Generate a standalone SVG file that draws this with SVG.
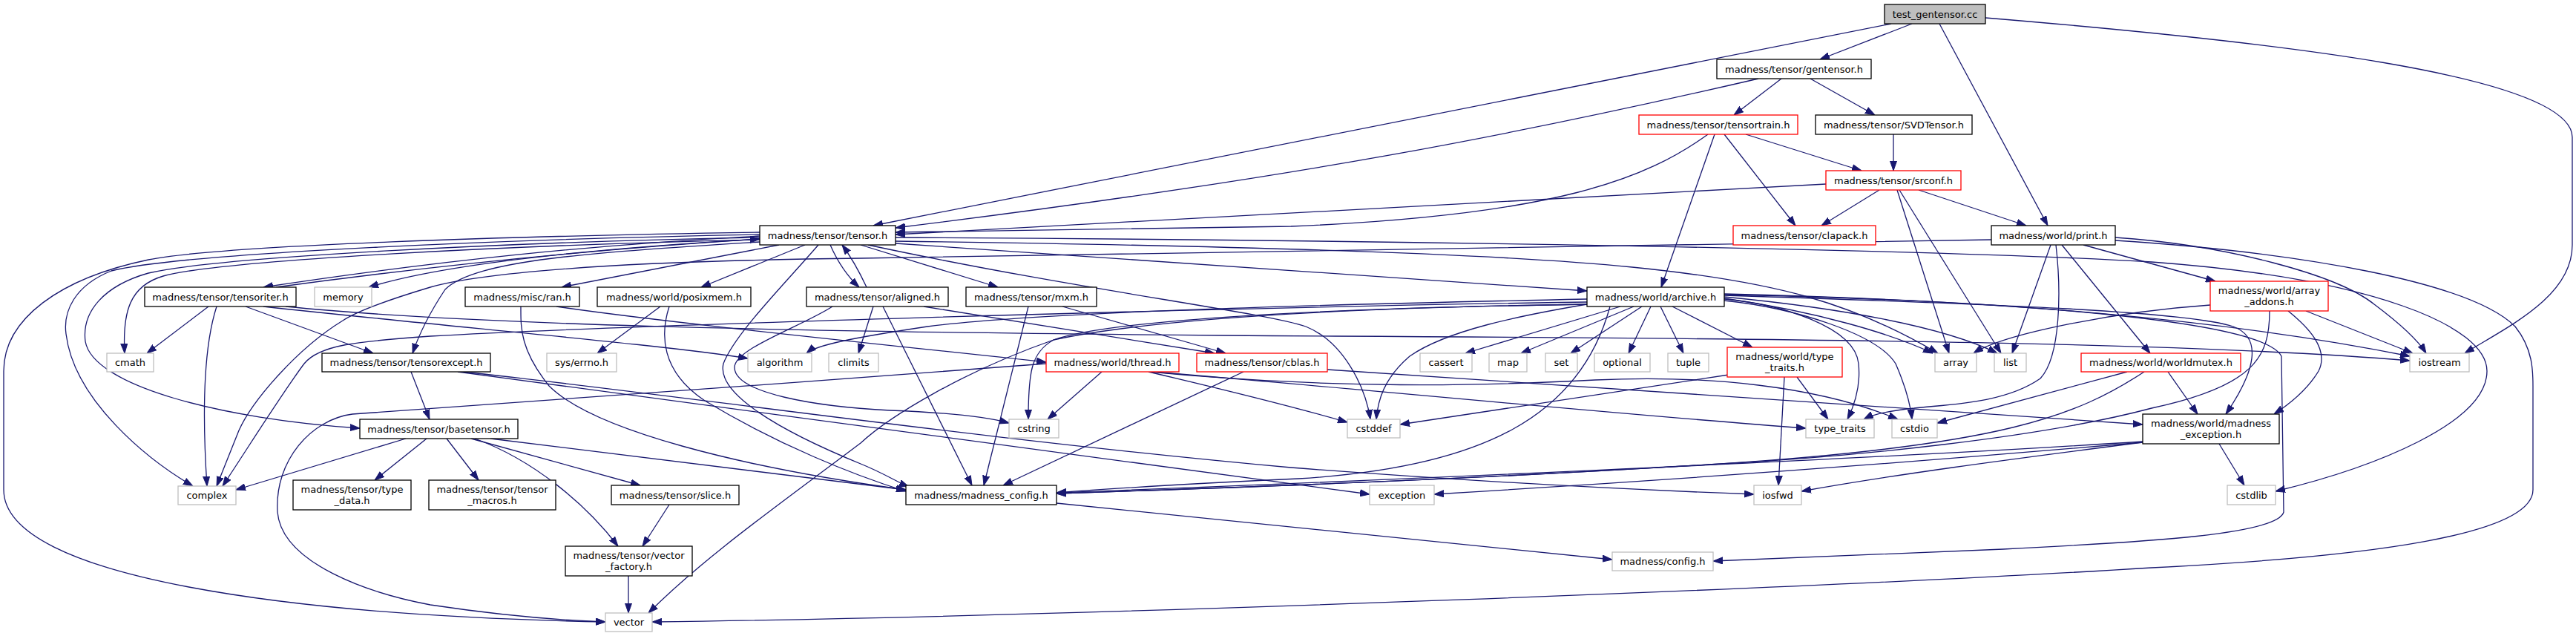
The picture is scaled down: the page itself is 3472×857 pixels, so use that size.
<svg xmlns="http://www.w3.org/2000/svg" width="3472" height="857" viewBox="0 0 3472 857">
<style>
.e{fill:none;stroke:#191970;stroke-width:1.3;marker-end:url(#a)}
rect{fill:#fff;stroke:#000;stroke-width:1.3}
.r rect{stroke:#f00}
.g rect{stroke:#bfbfbf}
.root rect{fill:#bfbfbf}
text{font-family:"DejaVu Sans",sans-serif;font-size:13px;fill:#000;text-anchor:middle}
</style>
<defs>
<marker id="a" markerUnits="userSpaceOnUse" viewBox="0 0 13 10" markerWidth="13" markerHeight="10" refX="13" refY="5" orient="auto"><path d="M0,0.5 L13,5 L0,9.5 z" fill="#191970" stroke="#191970"/></marker>
</defs>
<rect x="0" y="0" width="3472" height="857" style="fill:#fff;stroke:none"/>
<g id="edges">
<path class="e" d="M2577,32 L2453,80"/>
<path class="e" d="M2549,32 L1177,304"/>
<path class="e" d="M2614,32 L2760,304"/>
<path class="e" d="M2676,24 C3050,55 3467,100 3467,185 L3467,330 C3467,400 3380,440 3322,476"/>
<path class="e" d="M2401,106 L2337,155"/>
<path class="e" d="M2440,106 L2527,155"/>
<path class="e" d="M2370,106 C2050,180 1750,240 1207,307"/>
<path class="e" d="M2302,181 C2220,240 2100,290 1740,305 L1207,313"/>
<path class="e" d="M2311,181 L2239,387"/>
<path class="e" d="M2353,181 L2509,230"/>
<path class="e" d="M2324,181 L2420,304"/>
<path class="e" d="M2552,181 L2552,230"/>
<path class="e" d="M2461,248 L1207,316"/>
<path class="e" d="M2533,256 L2455,304"/>
<path class="e" d="M2586,256 L2731,304"/>
<path class="e" d="M2557,256 L2627,476"/>
<path class="e" d="M2560,256 L2697,476"/>
<path class="e" d="M2764,330 L2712,476"/>
<path class="e" d="M2771,330 C2778,390 2778,480 2750,510 C2700,545 2620,545 2580,550 C2550,553 2525,558 2512,565"/>
<path class="e" d="M2779,330 L2898,476"/>
<path class="e" d="M2808,330 L2986,379"/>
<path class="e" d="M2851,320 C3000,330 3150,370 3200,410 C3240,440 3260,460 3270,476"/>
<path class="e" d="M2851,324 C3100,340 3330,380 3390,440 C3414,470 3414,500 3414,520 L3414,660 C3414,720 3200,750 2900,765 C2500,790 1500,830 879,838"/>
<path class="e" d="M2684,323 L1160,348 C800,352 640,370 580,387 C520,405 480,420 462,432 C400,470 340,540 322,580 C310,610 300,635 292,655"/>
<path class="e" d="M1024,318 C800,330 600,350 355,387"/>
<path class="e" d="M372,387 C600,356 800,336 1024,322"/>
<path class="e" d="M1024,322 C800,335 600,355 497,387"/>
<path class="e" d="M1050,330 L757,387"/>
<path class="e" d="M1085,330 L945,387"/>
<path class="e" d="M1119,330 C1130,355 1145,375 1158,387"/>
<path class="e" d="M1168,387 C1160,370 1150,350 1135,330"/>
<path class="e" d="M1160,330 L1345,387"/>
<path class="e" d="M1207,328 L2139,392"/>
<path class="e" d="M1207,320 C1800,323 2600,335 2900,353 C3200,375 3352,440 3352,500 C3352,570 3200,630 3067,662"/>
<path class="e" d="M1207,325 C1600,330 2000,340 2200,360 C2400,380 2500,410 2612,476"/>
<path class="e" d="M1170,330 C1450,390 1700,420 1760,440 C1810,460 1840,520 1847,565"/>
<path class="e" d="M1024,313 C700,318 300,330 200,350 C80,375 5,430 5,500 L5,660 C5,780 400,830 816,838"/>
<path class="e" d="M1024,316 C700,322 250,340 150,365 C100,385 85,420 89,450 C100,540 200,620 260,655"/>
<path class="e" d="M1024,320 C700,326 300,345 200,368 C140,385 110,420 115,460 C125,520 300,565 485,577"/>
<path class="e" d="M1024,323 C700,330 300,350 220,372 C175,385 165,420 168,476"/>
<path class="e" d="M1024,326 C800,340 640,350 600,390 C580,420 565,450 556,476"/>
<path class="e" d="M1103,330 C1060,380 990,450 975,490 C965,530 1050,580 1160,625 C1190,637 1210,650 1225,656"/>
<path class="e" d="M702,413 C702,440 700,470 740,520 C800,580 1000,630 1221,660"/>
<path class="e" d="M750,413 C900,435 1200,465 1410,488"/>
<path class="e" d="M890,413 L805,476"/>
<path class="e" d="M902,413 C890,450 890,500 950,540 C1050,600 1150,640 1221,662"/>
<path class="e" d="M1177,413 L1157,476"/>
<path class="e" d="M1190,413 L1310,654"/>
<path class="e" d="M1245,413 L1637,476"/>
<path class="e" d="M1122,413 C1080,440 990,470 990,495 C990,530 1100,548 1200,553 C1280,556 1330,562 1360,570"/>
<path class="e" d="M1386,413 L1326,654"/>
<path class="e" d="M1432,413 L1652,476"/>
<path class="e" d="M1676,501 L1352,654"/>
<path class="e" d="M1789,498 C2100,520 2500,545 2888,572"/>
<path class="e" d="M1410,490 C1100,515 700,540 475,558 C420,565 370,620 374,690 C380,760 500,800 580,815 C680,830 760,836 816,838"/>
<path class="e" d="M1485,501 L1412,565"/>
<path class="e" d="M1548,501 C1650,525 1750,550 1816,569"/>
<path class="e" d="M1555,501 C1900,530 2200,560 2434,577"/>
<path class="e" d="M1550,501 C1800,525 2000,520 2150,512 C2300,505 2450,520 2558,565"/>
<path class="e" d="M2330,505 L1887,572"/>
<path class="e" d="M2422,508 L2464,565"/>
<path class="e" d="M2405,508 L2397,654"/>
<path class="e" d="M2184,413 L1975,476"/>
<path class="e" d="M2202,413 L2050,476"/>
<path class="e" d="M2213,413 L2117,476"/>
<path class="e" d="M2225,413 L2195,476"/>
<path class="e" d="M2238,413 L2269,476"/>
<path class="e" d="M2254,413 L2362,468"/>
<path class="e" d="M2139,410 C2050,425 1950,445 1900,480 C1865,510 1857,540 1855,565"/>
<path class="e" d="M2139,403 C1800,410 1400,420 1250,440 C1150,455 1100,465 1087,476"/>
<path class="e" d="M2139,407 C1600,415 800,440 580,453 C480,460 430,465 410,490 C380,530 330,610 300,655"/>
<path class="e" d="M2139,410 C1800,415 1550,430 1420,458 C1300,500 1200,560 1160,597 C1050,680 950,750 874,826"/>
<path class="e" d="M2139,410 C1800,415 1500,430 1420,458 C1390,475 1386,500 1386,565"/>
<path class="e" d="M2170,413 C2130,560 2000,630 1750,645 C1600,652 1500,658 1424,664"/>
<path class="e" d="M2324,402 C2450,420 2550,450 2605,476"/>
<path class="e" d="M2324,400 C2480,415 2620,440 2692,476"/>
<path class="e" d="M2324,403 C2400,410 2500,440 2505,490 C2508,520 2500,545 2490,565"/>
<path class="e" d="M2324,405 C2420,415 2530,450 2555,490 C2568,520 2575,545 2577,565"/>
<path class="e" d="M2324,398 C2700,410 2950,420 3010,440 C3050,455 3040,500 3000,558"/>
<path class="e" d="M2324,396 C2700,405 3000,430 3248,480"/>
<path class="e" d="M2324,397 C2700,405 3050,430 3075,480 L3078,690 C3070,720 2900,730 2700,740 C2500,748 2400,752 2309,756"/>
<path class="e" d="M1424,678 L2173,754"/>
<path class="e" d="M2991,598 L3025,654"/>
<path class="e" d="M2888,596 C2700,620 2550,640 2428,662"/>
<path class="e" d="M2888,596 C2500,630 2200,650 1933,666"/>
<path class="e" d="M2888,595 C2500,620 1800,650 1424,664"/>
<path class="e" d="M2922,501 L2962,558"/>
<path class="e" d="M2867,501 L2611,570"/>
<path class="e" d="M2890,501 C2800,560 2700,600 2320,625 C2000,645 1700,656 1424,665"/>
<path class="e" d="M2979,411 C2850,420 2700,450 2660,476"/>
<path class="e" d="M3108,419 L3252,476"/>
<path class="e" d="M3084,419 C3110,440 3140,470 3125,500 C3110,525 3085,545 3065,558"/>
<path class="e" d="M3059,419 C3059,480 3040,520 2900,550 C2750,590 2500,615 2320,625 C2000,645 1700,656 1424,665"/>
<path class="e" d="M281,413 L198,476"/>
<path class="e" d="M292,413 C280,450 270,520 279,655"/>
<path class="e" d="M331,413 L503,476"/>
<path class="e" d="M355,413 C600,440 900,465 1008,483"/>
<path class="e" d="M385,413 C600,435 1000,448 1800,453 C2600,457 3000,465 3248,486"/>
<path class="e" d="M554,501 L579,565"/>
<path class="e" d="M617,501 L1846,666"/>
<path class="e" d="M624,501 C900,530 1300,590 1740,630 C2000,650 2200,660 2364,666"/>
<path class="e" d="M547,591 L318,660"/>
<path class="e" d="M575,591 L505,647"/>
<path class="e" d="M602,591 L645,647"/>
<path class="e" d="M635,591 L863,654"/>
<path class="e" d="M640,591 C720,620 790,680 833,736"/>
<path class="e" d="M661,591 C900,620 1100,645 1221,660"/>
<path class="e" d="M902,680 L866,736"/>
<path class="e" d="M847,776 L847,826"/>
</g>
<g id="n_test_gentensor" class="root"><rect x="2540" y="6" width="136" height="26"/><text x="2608" y="23.5">test_gentensor.cc</text></g>
<g id="n_gentensor"><rect x="2314" y="80" width="208" height="26"/><text x="2418" y="97.5">madness/tensor/gentensor.h</text></g>
<g id="n_tensortrain" class="r"><rect x="2209" y="155" width="214" height="26"/><text x="2316" y="172.5">madness/tensor/tensortrain.h</text></g>
<g id="n_svdtensor"><rect x="2447" y="155" width="211" height="26"/><text x="2552.5" y="172.5">madness/tensor/SVDTensor.h</text></g>
<g id="n_srconf" class="r"><rect x="2461" y="230" width="182" height="26"/><text x="2552" y="247.5">madness/tensor/srconf.h</text></g>
<g id="n_clapack" class="r"><rect x="2336" y="304" width="192" height="26"/><text x="2432" y="321.5">madness/tensor/clapack.h</text></g>
<g id="n_print"><rect x="2684" y="304" width="167" height="26"/><text x="2767.5" y="321.5">madness/world/print.h</text></g>
<g id="n_tensor"><rect x="1024" y="304" width="183" height="26"/><text x="1115.5" y="321.5">madness/tensor/tensor.h</text></g>
<g id="n_tensoriter"><rect x="195" y="387" width="204" height="26"/><text x="297" y="404.5">madness/tensor/tensoriter.h</text></g>
<g id="n_memory" class="g"><rect x="424" y="387" width="77" height="26"/><text x="462.5" y="404.5">memory</text></g>
<g id="n_ran"><rect x="627" y="387" width="154" height="26"/><text x="704" y="404.5">madness/misc/ran.h</text></g>
<g id="n_posixmem"><rect x="805" y="387" width="207" height="26"/><text x="908.5" y="404.5">madness/world/posixmem.h</text></g>
<g id="n_aligned"><rect x="1087" y="387" width="191" height="26"/><text x="1182.5" y="404.5">madness/tensor/aligned.h</text></g>
<g id="n_mxm"><rect x="1302" y="387" width="176" height="26"/><text x="1390" y="404.5">madness/tensor/mxm.h</text></g>
<g id="n_archive"><rect x="2139" y="387" width="185" height="26"/><text x="2231.5" y="404.5">madness/world/archive.h</text></g>
<g id="n_array_addons" class="r"><rect x="2979" y="379" width="159" height="40"/><text x="3058.5" y="395.5">madness/world/array</text><text x="3058.5" y="410.5">_addons.h</text></g>
<g id="n_cmath" class="g"><rect x="144" y="476" width="63" height="25"/><text x="175.5" y="493">cmath</text></g>
<g id="n_tensorexcept"><rect x="434" y="476" width="227" height="25"/><text x="547.5" y="493">madness/tensor/tensorexcept.h</text></g>
<g id="n_errno" class="g"><rect x="737" y="476" width="94" height="25"/><text x="784" y="493">sys/errno.h</text></g>
<g id="n_algorithm" class="g"><rect x="1008" y="476" width="86" height="25"/><text x="1051" y="493">algorithm</text></g>
<g id="n_climits" class="g"><rect x="1117" y="476" width="67" height="25"/><text x="1150.5" y="493">climits</text></g>
<g id="n_thread" class="r"><rect x="1410" y="476" width="179" height="25"/><text x="1499.5" y="493">madness/world/thread.h</text></g>
<g id="n_cblas" class="r"><rect x="1613" y="476" width="176" height="25"/><text x="1701" y="493">madness/tensor/cblas.h</text></g>
<g id="n_cassert" class="g"><rect x="1914" y="476" width="70" height="25"/><text x="1949" y="493">cassert</text></g>
<g id="n_map" class="g"><rect x="2007" y="476" width="51" height="25"/><text x="2032.5" y="493">map</text></g>
<g id="n_set" class="g"><rect x="2083" y="476" width="43" height="25"/><text x="2104.5" y="493">set</text></g>
<g id="n_optional" class="g"><rect x="2149" y="476" width="75" height="25"/><text x="2186.5" y="493">optional</text></g>
<g id="n_tuple" class="g"><rect x="2248" y="476" width="55" height="25"/><text x="2275.5" y="493">tuple</text></g>
<g id="n_type_traits_h" class="r"><rect x="2328" y="468" width="155" height="40"/><text x="2405.5" y="484.5">madness/world/type</text><text x="2405.5" y="499.5">_traits.h</text></g>
<g id="n_array" class="g"><rect x="2608" y="476" width="56" height="25"/><text x="2636" y="493">array</text></g>
<g id="n_list" class="g"><rect x="2688" y="476" width="43" height="25"/><text x="2709.5" y="493">list</text></g>
<g id="n_worldmutex" class="r"><rect x="2805" y="476" width="215" height="25"/><text x="2912.5" y="493">madness/world/worldmutex.h</text></g>
<g id="n_iostream" class="g"><rect x="3248" y="476" width="80" height="25"/><text x="3288" y="493">iostream</text></g>
<g id="n_basetensor"><rect x="485" y="565" width="213" height="26"/><text x="591.5" y="582.5">madness/tensor/basetensor.h</text></g>
<g id="n_cstring" class="g"><rect x="1360" y="565" width="67" height="25"/><text x="1393.5" y="582">cstring</text></g>
<g id="n_cstddef" class="g"><rect x="1816" y="565" width="71" height="25"/><text x="1851.5" y="582">cstddef</text></g>
<g id="n_type_traits" class="g"><rect x="2434" y="565" width="92" height="25"/><text x="2480" y="582">type_traits</text></g>
<g id="n_cstdio" class="g"><rect x="2550" y="565" width="61" height="25"/><text x="2580.5" y="582">cstdio</text></g>
<g id="n_madness_exception"><rect x="2888" y="558" width="184" height="40"/><text x="2980" y="574.5">madness/world/madness</text><text x="2980" y="589.5">_exception.h</text></g>
<g id="n_complex" class="g"><rect x="240" y="655" width="78" height="25"/><text x="279" y="672">complex</text></g>
<g id="n_type_data"><rect x="395" y="647" width="159" height="40"/><text x="474.5" y="663.5">madness/tensor/type</text><text x="474.5" y="678.5">_data.h</text></g>
<g id="n_tensor_macros"><rect x="578" y="647" width="171" height="40"/><text x="663.5" y="663.5">madness/tensor/tensor</text><text x="663.5" y="678.5">_macros.h</text></g>
<g id="n_slice"><rect x="824" y="654" width="172" height="26"/><text x="910" y="671.5">madness/tensor/slice.h</text></g>
<g id="n_madness_config"><rect x="1221" y="654" width="203" height="26"/><text x="1322.5" y="671.5">madness/madness_config.h</text></g>
<g id="n_exception" class="g"><rect x="1846" y="654" width="87" height="26"/><text x="1889.5" y="671.5">exception</text></g>
<g id="n_iosfwd" class="g"><rect x="2364" y="654" width="64" height="26"/><text x="2396" y="671.5">iosfwd</text></g>
<g id="n_cstdlib" class="g"><rect x="3002" y="654" width="65" height="26"/><text x="3034.5" y="671.5">cstdlib</text></g>
<g id="n_vector_factory"><rect x="762" y="736" width="171" height="40"/><text x="847.5" y="752.5">madness/tensor/vector</text><text x="847.5" y="767.5">_factory.h</text></g>
<g id="n_config" class="g"><rect x="2173" y="744" width="136" height="25"/><text x="2241" y="761">madness/config.h</text></g>
<g id="n_vector" class="g"><rect x="816" y="826" width="63" height="25"/><text x="847.5" y="843">vector</text></g>
</svg>
